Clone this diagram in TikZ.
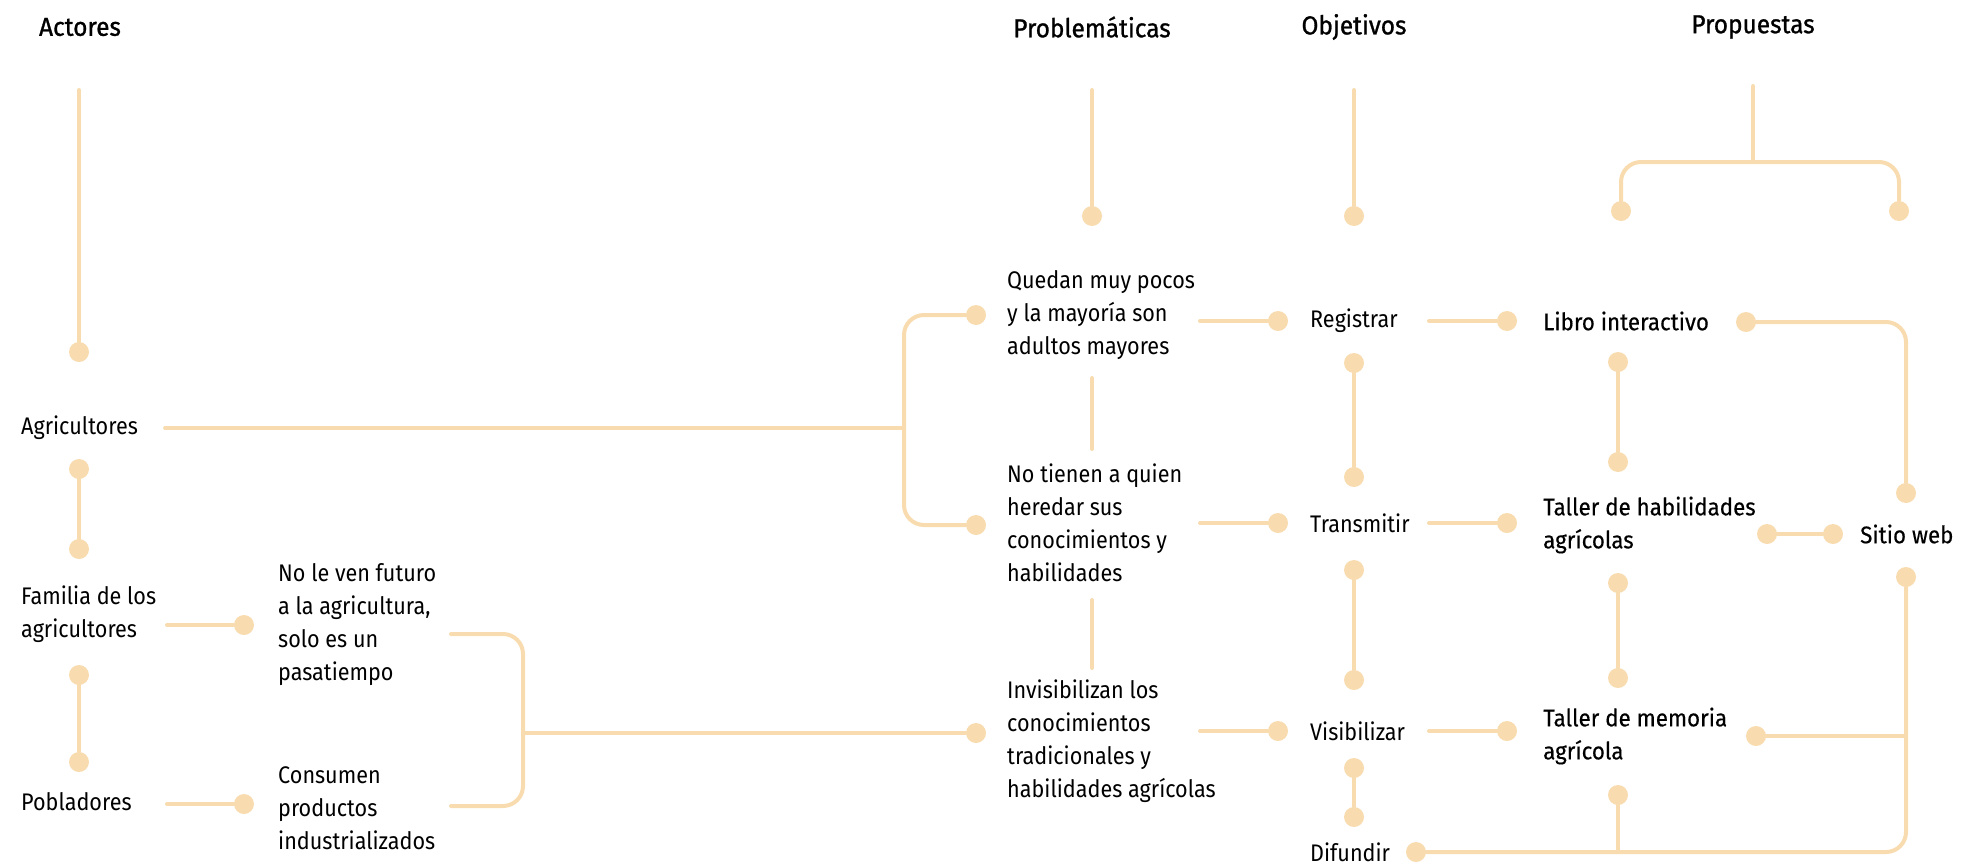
\documentclass[tikz,border=0pt]{standalone}
\usepackage{fontspec}
\setmainfont{Fira Sans}[FakeStretch=0.9]
\newfontfamily\propfont{Fira Sans}[FakeStretch=0.93, FakeBold=0.4]
\newfontfamily\headfont{Fira Sans}[FakeStretch=0.94, FakeBold=1.0]
\usetikzlibrary{positioning}
\definecolor{peach}{RGB}{248,220,176}
\tikzstyle{dot} = [circle, fill=peach, inner sep=0pt, minimum size=20pt]
\tikzstyle{link} = [draw=peach, line width=4pt, line cap=round]
\tikzstyle{txt} = [anchor=west, align=left, inner sep=0pt, font=\fontsize{24}{33}\selectfont]
\tikzstyle{prop} = [anchor=west, align=left, inner sep=0pt, font=\propfont\fontsize{24}{33}\selectfont]
\tikzstyle{head} = [inner sep=0pt, font=\headfont\fontsize{26}{30}\selectfont]

\begin{document}
\begin{tikzpicture}[x=1pt, y=-1pt]
	\useasboundingbox (0,0) rectangle (1964,865);

	% headers
	\node (h_actores) [head] at (80,27) {Actores};
	\node (h_problemas) [head] at (1092,27) {Problemáticas};
	\node (h_objetivos) [head] at (1354,27) {Objetivos};
	\node (h_propuestas) [head] at (1753,27) {Propuestas};

	% actores
	\coordinate (a_start) at (79,90);
	\node (a_top) [dot] at (79,352) {};
	\node (agricultores) [txt] at (21,428) {Agricultores};
	\node (a_d1) [dot] at (79,469) {};
	\node (a_d2) [dot] at (79,549) {};
	\node (familia) [txt] at (21,614) {Familia de los\\agricultores};
	\node (a_d3) [dot] at (79,675) {};
	\node (a_d4) [dot] at (79,762) {};
	\node (pobladores) [txt] at (21,802) {Pobladores};
	\coordinate (col_a) at (167,0);

	\node (fam_dot) [dot] at (244,625) {};
	\node (pob_dot) [dot] at (244,804) {};
	\node (no_ven) [txt] at (278,625) {No le ven futuro\\a la agricultura,\\solo es un\\pasatiempo};
	\node (consumen) [txt] at (278,808) {Consumen\\productos\\industrializados};
	\coordinate (b2_top) at (451,634);
	\coordinate (b2_mid) at (523,733);
	\coordinate (b2_bot) at (451,806);

	% problematicas
	\coordinate (p_start) at (1092,90);
	\node (p_top) [dot] at (1092,216) {};
	\node (quedan_dot) [dot] at (976,315) {};
	\node (tienen_dot) [dot] at (976,525) {};
	\node (invis_dot) [dot] at (976,733) {};
	\coordinate (b1_mid) at (904,428);
	\node (quedan) [txt] at (1007,315) {Quedan muy pocos\\y la mayoría son\\adultos mayores};
	\node (tienen) [txt] at (1007,523) {No tienen a quien\\heredar sus\\conocimientos y\\habilidades};
	\node (invis) [txt] at (1007,741) {Invisibilizan los\\conocimientos\\tradicionales y\\habilidades agrícolas};
	\coordinate (p_s1) at (1092,378);
	\coordinate (p_e1) at (1092,449);
	\coordinate (p_s2) at (1092,600);
	\coordinate (p_e2) at (1092,668);
	\coordinate (col_p) at (1200,0);

	% objetivos
	\coordinate (o_start) at (1354,90);
	\node (o_top) [dot] at (1354,216) {};
	\node (reg_in) [dot] at (1278,321) {};
	\node (registrar) [txt] at (1310,321) {Registrar};
	\node (reg_down) [dot] at (1354,363) {};
	\node (tra_up) [dot] at (1354,477) {};
	\node (tra_in) [dot] at (1278,523) {};
	\node (transmitir) [txt] at (1310,523) {Transmitir};
	\node (tra_down) [dot] at (1354,570) {};
	\node (vis_up) [dot] at (1354,680) {};
	\node (vis_in) [dot] at (1278,731) {};
	\node (visibilizar) [txt] at (1310,731) {Visibilizar};
	\node (vis_down) [dot] at (1354,768) {};
	\node (dif_up) [dot] at (1354,817) {};
	\node (difundir) [txt] at (1310,852) {Difundir};
	\node (dif_out) [dot] at (1416,852) {};
	\coordinate (col_o) at (1429,0);

	% propuestas
	\coordinate (pr_start) at (1753,86);
	\coordinate (pr_join) at (1753,162);
	\node (pr_l) [dot] at (1621,211) {};
	\node (pr_r) [dot] at (1899,211) {};
	\node (libro_in) [dot] at (1507,321) {};
	\node (libro) [prop] at (1543,321) {Libro interactivo};
	\node (libro_out) [dot] at (1746,322) {};
	\node (libro_down) [dot] at (1618,362) {};
	\node (tal1_up) [dot] at (1618,462) {};
	\node (tal1_in) [dot] at (1507,523) {};
	\node (taller_hab) [prop] at (1543,525) {Taller de habilidades\\agrícolas};
	\node (tal1_out) [dot] at (1767,534) {};
	\node (tal1_down) [dot] at (1618,583) {};
	\node (tal2_up) [dot] at (1618,678) {};
	\node (tal2_in) [dot] at (1507,731) {};
	\node (taller_mem) [prop] at (1543,736) {Taller de memoria\\agrícola};
	\node (tal2_out) [dot] at (1756,736) {};
	\node (tal2_down) [dot] at (1618,795) {};
	\node (sitio_up) [dot] at (1906,493) {};
	\node (sitio_in) [dot] at (1833,534) {};
	\node (sitio) [prop] at (1860,534) {Sitio web};
	\node (sitio_down) [dot] at (1906,577) {};

	% connectors
	\draw [link] (a_start) -- (a_top);
	\draw [link] (a_d1) -- (a_d2);
	\draw [link] (a_d3) -- (a_d4);
	\draw [link] (agricultores.east) ++(27,0) -- (b1_mid);
	\draw [link] (fam_dot -| col_a) -- (fam_dot);
	\draw [link] (pob_dot -| col_a) -- (pob_dot);
	\draw [link, rounded corners=20pt] (quedan_dot) -| (b1_mid) |- (tienen_dot);
	\draw [link, rounded corners=20pt] (b2_top) -| (b2_mid) |- (b2_bot);
	\draw [link] (b2_mid) -- (invis_dot);

	\draw [link] (p_start) -- (p_top);
	\draw [link] (p_s1) -- (p_e1);
	\draw [link] (p_s2) -- (p_e2);
	\draw [link] (reg_in -| col_p) -- (reg_in);
	\draw [link] (tra_in -| col_p) -- (tra_in);
	\draw [link] (vis_in -| col_p) -- (vis_in);

	\draw [link] (o_start) -- (o_top);
	\draw [link] (reg_down) -- (tra_up);
	\draw [link] (tra_down) -- (vis_up);
	\draw [link] (vis_down) -- (dif_up);
	\draw [link] (libro_in -| col_o) -- (libro_in);
	\draw [link] (tal1_in -| col_o) -- (tal1_in);
	\draw [link] (tal2_in -| col_o) -- (tal2_in);

	\draw [link] (pr_start) -- (pr_join);
	\draw [link, rounded corners=20pt] (pr_l) |- (pr_join) -| (pr_r);
	\draw [link, rounded corners=20pt] (libro_out) -| (sitio_up);
	\draw [link] (libro_down) -- (tal1_up);
	\draw [link] (tal1_down) -- (tal2_up);
	\draw [link] (tal1_out) -- (sitio_in);
	\draw [link, rounded corners=20pt] (sitio_down) |- (dif_out);
	\draw [link] (tal2_out) -- (tal2_out -| sitio_down);
	\draw [link] (tal2_down) -- (tal2_down |- dif_out);

\end{tikzpicture}
\end{document}
